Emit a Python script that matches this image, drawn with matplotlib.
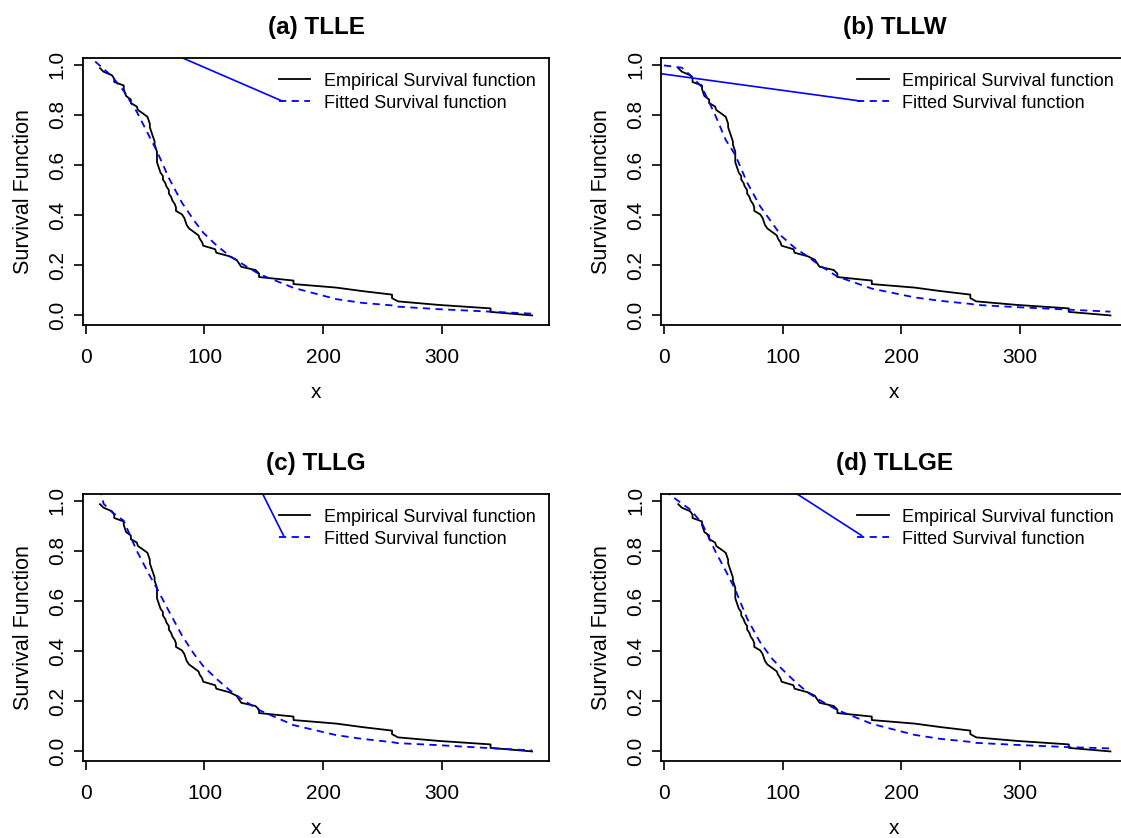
import numpy as np
import matplotlib
matplotlib.use("Agg")
import matplotlib.pyplot as plt
from matplotlib.ticker import FormatStrFormatter

plt.rcParams['font.family'] = ['Liberation Sans', 'DejaVu Sans']

# observed survival times (sorted, ties kept) and empirical survival at each one
times = [12, 15, 22, 24, 24, 32, 32, 33, 34, 38, 38, 43, 44, 48, 52, 53, 54, 54,
         55, 56, 57, 58, 58, 59, 60, 60, 60, 60, 61, 62, 63, 65, 65, 67, 68, 70,
         70, 72, 73, 75, 76, 76, 81, 83, 84, 85, 87, 91, 95, 96, 98, 99, 109, 110,
         121, 127, 129, 131, 143, 146, 146, 175, 175, 211, 233, 258, 258, 263, 297,
         341, 341, 376]
emp_surv = [0.986, 0.972, 0.958, 0.944, 0.931, 0.917, 0.903, 0.889, 0.875, 0.861,
            0.847, 0.833, 0.819, 0.806, 0.792, 0.778, 0.764, 0.750, 0.736, 0.722,
            0.708, 0.694, 0.681, 0.667, 0.653, 0.639, 0.625, 0.611, 0.597, 0.583,
            0.569, 0.556, 0.542, 0.528, 0.514, 0.500, 0.486, 0.472, 0.458, 0.444,
            0.431, 0.417, 0.403, 0.389, 0.375, 0.361, 0.347, 0.333, 0.319, 0.306,
            0.292, 0.278, 0.264, 0.250, 0.236, 0.222, 0.208, 0.194, 0.181, 0.167,
            0.153, 0.139, 0.125, 0.111, 0.097, 0.083, 0.069, 0.056, 0.042, 0.028,
            0.014, 0.000]

titles = ['(a) TLLE', '(b) TLLW', '(c) TLLG', '(d) TLLGE']

# fitted survival curves
fit_a_x = [0, 22, 32, 43, 54, 60, 70, 81, 91, 99, 110, 121, 131, 146, 175, 211, 233, 258, 263, 297, 341, 376]
fit_a_y = [1.046, 0.954, 0.895, 0.812, 0.71, 0.655, 0.548, 0.45, 0.38, 0.33, 0.28, 0.238, 0.208, 0.165,
           0.11, 0.065, 0.05, 0.04, 0.035, 0.025, 0.015, 0.007]

fit_b_x = [0, 15, 24, 32, 43, 52, 60, 70, 81, 99, 110, 121, 131, 146, 175, 211, 233, 258, 263, 297, 341, 376]
fit_b_y = [0.997, 0.988, 0.95, 0.91, 0.80, 0.70, 0.64, 0.53, 0.435, 0.316, 0.27, 0.235, 0.2, 0.155,
           0.107, 0.072, 0.058, 0.046, 0.042, 0.033, 0.023, 0.015]

fit_c_x = [12, 15, 22, 32, 43, 54, 60, 70, 81, 91, 99, 110, 121, 131, 146, 175, 211, 233, 258, 263, 297, 341, 376]
fit_c_y = [1.05, 0.988, 0.955, 0.92, 0.80, 0.70, 0.65, 0.56, 0.463, 0.39, 0.34, 0.29, 0.245, 0.21, 0.165,
           0.105, 0.065, 0.05, 0.037, 0.033, 0.025, 0.013, 0.004]

fit_d_x = [0, 22, 32, 43, 52, 60, 70, 81, 91, 99, 110, 121, 131, 146, 175, 211, 233, 258, 263, 297, 341, 376]
fit_d_y = [1.04, 0.965, 0.91, 0.80, 0.72, 0.645, 0.53, 0.435, 0.37, 0.33, 0.28, 0.235, 0.205, 0.165,
           0.11, 0.066, 0.05, 0.038, 0.034, 0.026, 0.017, 0.012]

# the stray solid blue segment that runs into the legend in each panel
stray_a = ([82.2, 165.5], [1.0255, 0.855])
stray_b = ([-2.6, 165.5], [0.964, 0.855])
stray_c = ([149.2, 166.6], [1.0255, 0.861])
stray_d = ([112.5, 166.4], [1.0255, 0.861])

fits = [(fit_a_x, fit_a_y), (fit_b_x, fit_b_y), (fit_c_x, fit_c_y), (fit_d_x, fit_d_y)]
strays = [stray_a, stray_b, stray_c, stray_d]

W, H = 1121, 838
fig = plt.figure(figsize=(W / 100, H / 100), dpi=100)

# panel boxes in pixels: left, top, width, height
boxes = [(82.7, 58.3), (661.0, 58.3), (82.7, 494.3), (661.0, 494.3)]
bw, bh = 466.7, 267.0

for k in range(4):
    left, top = boxes[k]
    ax = fig.add_axes([left / W, 1 - (top + bh) / H, bw / W, bh / H])

    ax.plot(times, emp_surv, color='black', lw=1.3, label='Empirical Survival function')
    ax.plot(fits[k][0], fits[k][1], color='blue', lw=1.3, linestyle=(0, (4, 3)),
            label='Fitted Survival function')
    ax.plot(strays[k][0], strays[k][1], color='blue', lw=1.2)

    ax.set_xlim(-2.56, 390.56)
    ax.set_ylim(-0.0394, 1.0254)
    ax.set_xticks([0, 100, 200, 300])
    ax.set_yticks([0.0, 0.2, 0.4, 0.6, 0.8, 1.0])
    ax.yaxis.set_major_formatter(FormatStrFormatter('%.1f'))
    ax.tick_params(direction='out', length=6.5, width=1.2, labelsize=15)
    ax.tick_params(axis='x', pad=10)
    ax.tick_params(axis='y', pad=5)
    for lab in ax.get_yticklabels():
        lab.set_rotation(90)
        lab.set_va('center')
    for sp in ax.spines.values():
        sp.set_linewidth(1.3)

    ax.set_xlabel('x', fontsize=15, labelpad=11.5)
    ax.set_ylabel('Survival Function', fontsize=15.5, labelpad=10)
    ax.set_title(titles[k], fontsize=17.5, fontweight='bold', pad=17.5)

    ax.legend(loc='upper left', bbox_to_anchor=(0.401, 0.98), frameon=False,
              fontsize=13, borderpad=0, handlelength=1.75, handletextpad=0.75,
              labelspacing=0.28)

fig.savefig('out.png', dpi=100)
